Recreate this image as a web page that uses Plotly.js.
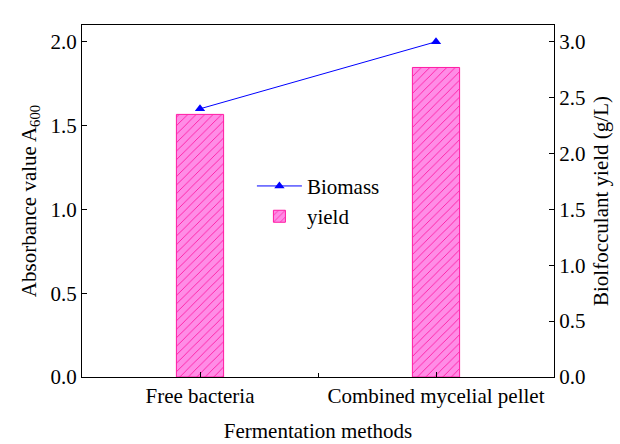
<!DOCTYPE html>
<html>
<head>
<meta charset="utf-8">
<script src="https://cdn.plot.ly/plotly-3.0.1.min.js"></script>
<style>body{margin:0;padding:0;background:#fff}#chart{width:620px;height:444px}</style>
</head>
<body>
<div id="chart"></div>
<script>
const categories = ["Free bacteria", "Combined mycelial pellet"];
const biomass = [1.60, 2.00];
const yieldValues = [2.35, 2.77];
const leftTicks = [0, 0.5, 1.0, 1.5, 2.0];
const rightTicks = [0, 0.5, 1.0, 1.5, 2.0, 2.5, 3.0];

const fontFam = '"Liberation Serif", "Times New Roman", Times, serif';
const FS = 21;
const xIdx = categories.map((c, i) => i);

const traces = [
  {
    type: "scatter", mode: "lines+markers", name: "Biomass",
    x: xIdx, y: biomass, yaxis: "y",
    line: {color: "#0000ff", width: 1},
    marker: {symbol: "triangle-up", size: 9, color: "#0000ff"}
  },
  {
    type: "bar", name: "yield",
    x: xIdx, y: yieldValues, yaxis: "y2", width: 0.2,
    marker: {
      color: "#ff8ce6",
      line: {color: "#ff1aa3", width: 1},
      pattern: {shape: "/", fgcolor: "#ff1aa3", bgcolor: "#ff8ce6", size: 6, solidity: 0.15}
    }
  }
];

const layout = {
  width: 620, height: 444,
  margin: {l: 82, r: 66, t: 25, b: 67},
  paper_bgcolor: "#ffffff", plot_bgcolor: "#ffffff",
  font: {family: fontFam, size: FS, color: "#000"},
  showlegend: true,
  legend: {x: 0.36, y: 0.6, xanchor: "left", yanchor: "top", bgcolor: "rgba(0,0,0,0)",
           font: {family: fontFam, size: FS}, itemwidth: 45, tracegroupgap: 0},
  xaxis: {
    range: [-0.5, 1.5], tickvals: [0, 1], ticktext: categories,
    ticks: "inside", ticklen: 5, tickcolor: "#000", showgrid: false, zeroline: false,
    minor: {tickvals: [0.5], ticks: "inside", ticklen: 4, tickcolor: "#000", showgrid: false},
    showline: true, linecolor: "#000", linewidth: 1, mirror: true,
    tickfont: {family: fontFam, size: FS},
    title: {text: "Fermentation methods", font: {family: fontFam, size: FS}, standoff: 16}
  },
  yaxis: {
    range: [0, 2.1], tickvals: leftTicks, ticktext: leftTicks.map(v => v.toFixed(1)),
    ticks: "inside", ticklen: 5, tickcolor: "#000", showgrid: false, zeroline: false,
    showline: true, linecolor: "#000", linewidth: 1,
    tickfont: {family: fontFam, size: FS},
    title: {text: "Absorbance value A<sub>600</sub>", font: {family: fontFam, size: FS}, standoff: 8}
  },
  yaxis2: {
    range: [0, 3.15], tickvals: rightTicks, ticktext: rightTicks.map(v => v.toFixed(1)),
    overlaying: "y", side: "right",
    ticks: "inside", ticklen: 5, tickcolor: "#000", showgrid: false, zeroline: false,
    showline: true, linecolor: "#000", linewidth: 1,
    tickfont: {family: fontFam, size: FS},
    title: {text: "Biolfocculant yield (g/L)", font: {family: fontFam, size: FS}, standoff: 8}
  }
};

Plotly.newPlot("chart", traces, layout, {displayModeBar: false, staticPlot: true});
</script>
</body>
</html>
